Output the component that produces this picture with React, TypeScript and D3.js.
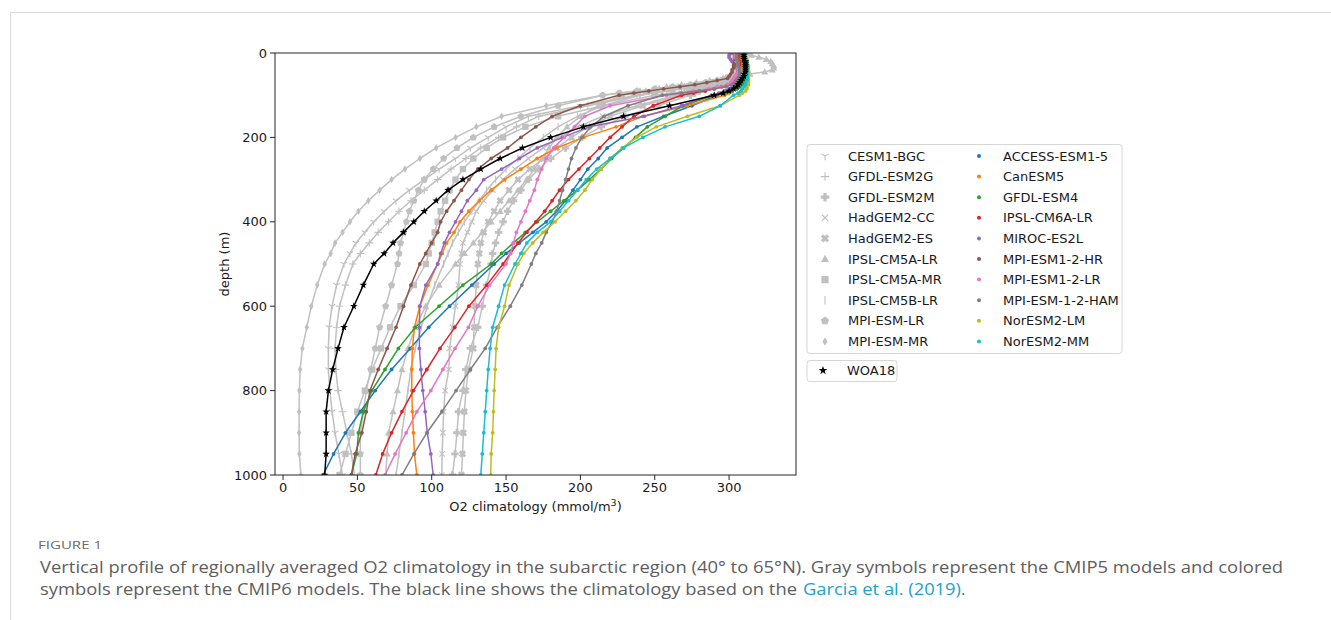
import React from "react";
import * as d3 from "d3";

// ---------- DATA ----------
const depths = [0, 5, 10, 15, 20, 25, 30, 35, 40, 45, 50, 55, 60, 65, 70, 75, 80, 85, 90, 95, 100,
  125, 150, 175, 200, 225, 250, 275, 300, 325, 350, 375, 400, 425, 450, 475, 500,
  550, 600, 650, 700, 750, 800, 850, 900, 950, 1000];

const xTicks = [0, 50, 100, 150, 200, 250, 300];
const yTicks = [0, 200, 400, 600, 800, 1000];

// CMIP5 (gray)
const cesm1Bgc = [304,304,304,305,305,305,305,305,305,304,303,301,298,294,289,283,276,268,258,248,238,
  200,165,150,138,126,116,105,95,85,76,68,61,55,49,45,41,
  36,33,31,30.5,30.5,31.5,33,35,37.5,40];
const gfdlEsm2g = [304,304,305,305,305,305,305,305,305,304,303,301,298,294,289,283,276,268,259,250,240,
  205,172,157,145,133,123,113,104,95,86,78,71,64,58,52,47,
  42,38,36,35,35.5,37,40,43,46,48];
const gfdlEsm2m = [308,308,308,309,309,309,309,309,309,308,307,305,302,299,295,291,287,283,280,277,274,
  252,230,214,201,190,180,172,165,160,155,151,148,145,143,141,140,
  137,134,131,126,123,121,118,117,115.7,114];
const hadgem2Cc = [306,306,306,307,307,307,307,307,307,306,305,303,300,296,291,286,281,276,272,268,264,
  238,215,198,186,175,165,156,148,141,135,130,127,124,121,120,119,
  118,116,114,112,111.5,109,108,107.5,107,106.8];
const hadgem2Es = [307,307,307,308,308,308,308,308,308,307,306,304,301,297,293,288,283,279,275,271,267,
  242,220,205,194,184,175,166,158,152,146,142,138,135,133,132,131,
  130,129,128.5,128,124.7,123,122,121.3,120.7,120];
const ipslCm5aLr = [312,315,320,325,328,329,330,330,329,324,314,305,296,287,278,268,258,251,244,236,228,
  212,200,191,184,179,174,169,164,158,152,146,140,134,128,122,116,
  105,96,89,84,80,77,74,71,70,69];
const ipslCm5aMr = [306,306,307,307,308,308,308,308,308,308,307,306,305,303,300,296,290,282,273,262,250,
  215,185,163,148,137,128,121,116,112,109,106,104,102,100,98,96,
  88,79,72,66,60,55,50,46,42,38];
const ipslCm5bLr = [308,308,309,309,310,310,310,310,309,308,306,303,298,292,285,277,270,262,255,248,240,
  215,198,185,175,166,158,150,143,137,132,127,122,118,114,111,108,
  102,97,93,89,86,84,82,80,78,76];
const mpiEsmLr = [305,305,305,306,306,306,306,306,306,305,304,302,298,292,284,274,262,250,238,226,215,
  185,160,142,128,117,108,101,95,91,88,85,83,81,79,78,77,
  73,69,65,62,59,56,54,52,52,52];
const mpiEsmMr = [303,303,303,304,304,305,305,305,305,305,304,303,300,295,288,278,266,253,240,227,215,
  177,147,130,116,103,92,82,73,65,57.4,50.7,45,40,35,32,28,
  23,19,16,13,11.5,11,10.8,10.8,11,12];

// CMIP6 (colored)
const accessEsm15 = [308,308,308,309,309,310,310,311,311,311,311,311,311,311,310,309,307,305,302,298,292,
  275,256,238,228,218,212,205,200,195,190,184,177,168,159,150,142,
  127,112,98,85.5,73,62,52,42,34,27];
const canEsm5 = [306,306,307,307,308,309,309,310,310,311,311,311,310,310,309,308,306,304,302,300,297,
  272,242,224,202,184,171,160,149,140,132,125,119,115,110,107,104,
  97.5,92,88.4,87,86.6,86.6,87,87.7,88.4,90];
const gfdlEsm4 = [309,309,309,310,310,311,311,311,311,311,311,311,311,310,309,308,307,305,302,297,290,
  269,257,245,237,229,221,214,206,198,189,180,171,163,155,147,140,
  121,105,89,77.6,68.6,59.7,54,50.7,49.6,46];
const ipslCm6aLr = [306,306,306,306,307,307,307,307,307,307,306,306,305,304,302,299,295,290,284,276,268,
  249,236,228,220,213,206,199,192,186,181,176,170,164,158,153,148,
  137,125,115.5,105.6,96.7,87.7,80,73,67,62.4];
const mirocEs2l = [301,300,300,301,302,303,304,305,306,306,306,306,306,305,304,303,302,300,297,293,288,
  268,243,206,188,171,159,147,135,130,124,120,116,112,108.5,106,104,
  96,92,91.7,91.7,92.7,94,95.6,97,99.4,101];
const mpiEsm12Hr = [303,304,304,304,304,304,303,303,302,302,301,300,299,292,285,277,267,256,246,236,226,
  200,181,170,160,151,140,131,125,120,115,110,106,104,100,96,92,
  86,81,76,70,64,58.5,56,53,48.5,46];
const mpiEsm12Lr = [304,304,304,305,305,306,306,306,306,306,305,304,303,302,301,299,292,286,276,267,258,
  220,203,196,189,182,177,174,171,169,166,163,160,157,155,153,150,
  139,131,124.7,115.7,107.5,99.4,90,82.8,75.4,68.6];
const mpiEsm12Ham = [305,305,305,305,306,306,306,307,307,307,307,307,306,305,304,302,298,290,280,268,255,
  232,216,207,201,197,194,192,190,188,186,184,181,177,174,170,167,
  160.6,152.8,144,136,126,116.4,106.8,96.7,88,80];
const norEsm2Lm = [311,311,311,312,312,312,313,313,313,313,313,313,313,313,313,313,312,312,311,309,307,
  294,272,251,238,228,220,214,208,203,197,190,183,175,168,162,158,
  152,149,145,143.3,142.7,142,141.5,141,140,139.7];
const norEsm2Mm = [311,311,311,311,312,312,312,312,312,312,312,312,312,312,311,311,310,309,308,306,303,
  294,280,257,242,229,220,211,204,198,192,186,180,171,164,160,156,
  149,145,141,139.3,138,137,136,135,134,133];

// Observation
const woa18 = [310,310,310,310,311,311,311,311,311,311,310,310,309,308,307,306,305,303,300,296,290,
  260,229,202,180,161,146,133,121,111,103,95,88,81,74,68,61,
  54,47.6,41,37,33.4,30.5,29,29,29,28];

const cmip5Names = ["CESM1-BGC","GFDL-ESM2G","GFDL-ESM2M","HadGEM2-CC","HadGEM2-ES","IPSL-CM5A-LR","IPSL-CM5A-MR","IPSL-CM5B-LR","MPI-ESM-LR","MPI-ESM-MR"];
const cmip5Values = [cesm1Bgc, gfdlEsm2g, gfdlEsm2m, hadgem2Cc, hadgem2Es, ipslCm5aLr, ipslCm5aMr, ipslCm5bLr, mpiEsmLr, mpiEsmMr];
const cmip5Markers = ["tri_down","plus","P","x","X","triangle","square","vline","pentagon","thin_diamond"];

const cmip6Names = ["ACCESS-ESM1-5","CanESM5","GFDL-ESM4","IPSL-CM6A-LR","MIROC-ES2L","MPI-ESM1-2-HR","MPI-ESM1-2-LR","MPI-ESM-1-2-HAM","NorESM2-LM","NorESM2-MM"];
const cmip6Values = [accessEsm15, canEsm5, gfdlEsm4, ipslCm6aLr, mirocEs2l, mpiEsm12Hr, mpiEsm12Lr, mpiEsm12Ham, norEsm2Lm, norEsm2Mm];
const cmip6Colors = ["#1f77b4","#ff7f0e","#2ca02c","#d62728","#9467bd","#8c564b","#e377c2","#7f7f7f","#bcbd22","#17becf"];

const GRAY = "#c0c0c0";

// ---------- MARKERS ----------
function markerShape(type: string, size: number): { d: string; filled: boolean } {
  const r = size / 2;
  const f = (n: number) => n.toFixed(2);
  switch (type) {
    case "dot":
    case "circle":
      return { d: `M${f(r)},0A${f(r)},${f(r)} 0 1,1 ${f(-r)},0A${f(r)},${f(r)} 0 1,1 ${f(r)},0Z`, filled: true };
    case "tri_down":
      return { d: `M0,0L0,${f(r)}M0,0L${f(-0.866 * r)},${f(-0.5 * r)}M0,0L${f(0.866 * r)},${f(-0.5 * r)}`, filled: false };
    case "plus":
      return { d: `M${f(-r)},0H${f(r)}M0,${f(-r)}V${f(r)}`, filled: false };
    case "x": {
      const a = 0.72 * r;
      return { d: `M${f(-a)},${f(-a)}L${f(a)},${f(a)}M${f(-a)},${f(a)}L${f(a)},${f(-a)}`, filled: false };
    }
    case "vline":
      return { d: `M0,${f(-r)}V${f(r)}`, filled: false };
    case "P":
    case "X": {
      const a = r * 0.38;
      const R = r;
      let pts: [number, number][] = [
        [-a, -R], [a, -R], [a, -a], [R, -a], [R, a], [a, a], [a, R], [-a, R], [-a, a], [-R, a], [-R, -a], [-a, -a],
      ];
      if (type === "X") {
        const c = Math.cos(Math.PI / 4), s = Math.sin(Math.PI / 4);
        pts = pts.map(([px, py]) => [px * c - py * s, px * s + py * c]);
      }
      return { d: "M" + pts.map(p => `${f(p[0])},${f(p[1])}`).join("L") + "Z", filled: true };
    }
    case "triangle":
      return { d: `M0,${f(-r)}L${f(0.95 * r)},${f(0.7 * r)}L${f(-0.95 * r)},${f(0.7 * r)}Z`, filled: true };
    case "square": {
      const a = r * 0.85;
      return { d: `M${f(-a)},${f(-a)}H${f(a)}V${f(a)}H${f(-a)}Z`, filled: true };
    }
    case "pentagon": {
      const pts = d3.range(5).map(k => {
        const ang = -Math.PI / 2 + (k * 2 * Math.PI) / 5;
        return [r * Math.cos(ang), r * Math.sin(ang)];
      });
      return { d: "M" + pts.map(p => `${f(p[0])},${f(p[1])}`).join("L") + "Z", filled: true };
    }
    case "thin_diamond":
      return { d: `M0,${f(-r)}L${f(0.6 * r)},0L0,${f(r)}L${f(-0.6 * r)},0Z`, filled: true };
    case "star": {
      const pts = d3.range(10).map(k => {
        const ang = -Math.PI / 2 + (k * Math.PI) / 5;
        const rr = k % 2 === 0 ? r : r * 0.4;
        return [rr * Math.cos(ang), rr * Math.sin(ang)];
      });
      return { d: "M" + pts.map(p => `${f(p[0])},${f(p[1])}`).join("L") + "Z", filled: true };
    }
    default:
      return { d: "", filled: true };
  }
}

function Marker({ type, size, color, cx, cy }: { type: string; size: number; color: string; cx: number; cy: number }) {
  const m = markerShape(type, size);
  return (
    <path
      d={m.d}
      transform={`translate(${cx.toFixed(2)},${cy.toFixed(2)})`}
      fill={m.filled ? color : "none"}
      stroke={m.filled ? "none" : color}
      strokeWidth={m.filled ? 0 : 1.1}
    />
  );
}

// ---------- CHART ----------
export default function App() {
  const W = 1331, H = 620;
  const left = 275, right = 796, top = 53, bottom = 475;
  const x = d3.scaleLinear().domain([-5.4, 345]).range([left, right]);
  const y = d3.scaleLinear().domain([0, 1000]).range([top, bottom]);
  const lineGen = d3.line<number>().x(v => x(v)).y((_, i) => y(depths[i]));

  const font = "'DejaVu Sans', sans-serif";
  const txt = "#1a1a1a";

  type S = { name: string; values: number[]; color: string; marker: string; size: number };
  const series: S[] = [
    ...cmip5Names.map((n, i) => ({ name: n, values: cmip5Values[i], color: GRAY, marker: cmip5Markers[i], size: 7.5 })),
    ...cmip6Names.map((n, i) => ({ name: n, values: cmip6Values[i], color: cmip6Colors[i], marker: "dot", size: 3.8 })),
    { name: "WOA18", values: woa18, color: "#000000", marker: "star", size: 8 },
  ];

  const legRowY = (i: number) => 156 + i * 20.6;

  return (
    <svg width={W} height={H} style={{ position: "absolute", left: 0, top: 0, display: "block", background: "#fff" }}>
      {/* page border */}
      <line x1={10.5} y1={12.5} x2={W} y2={12.5} stroke="#d9d9d9" strokeWidth={1} />
      <line x1={10.5} y1={12.5} x2={10.5} y2={H} stroke="#d9d9d9" strokeWidth={1} />

      <defs>
        <clipPath id="plotClip">
          <rect x={left} y={top} width={right - left} height={bottom - top} />
        </clipPath>
      </defs>

      {/* series */}
      <g clipPath="url(#plotClip)">
        {series.map((s, si) => (
          <g key={si}>
            <path d={lineGen(s.values) || ""} fill="none" stroke={s.color} strokeWidth={1.5} strokeLinejoin="round" />
            {s.values.map((v, i) => (
              <Marker key={i} type={s.marker} size={s.size} color={s.color} cx={x(v)} cy={y(depths[i])} />
            ))}
          </g>
        ))}
      </g>

      {/* axes frame */}
      <rect x={left} y={top} width={right - left} height={bottom - top} fill="none" stroke="#262626" strokeWidth={1} />

      {/* x ticks */}
      {xTicks.map(t => (
        <g key={t}>
          <line x1={x(t)} x2={x(t)} y1={bottom} y2={bottom + 5} stroke="#262626" strokeWidth={1} />
          <text x={x(t)} y={bottom + 17} textAnchor="middle" fontFamily={font} fontSize={13} fill={txt}>{t}</text>
        </g>
      ))}
      {/* y ticks */}
      {yTicks.map(t => (
        <g key={t}>
          <line x1={left - 5} x2={left} y1={y(t)} y2={y(t)} stroke="#262626" strokeWidth={1} />
          <text x={left - 8} y={y(t) + 4.6} textAnchor="end" fontFamily={font} fontSize={13} fill={txt}>{t}</text>
        </g>
      ))}

      {/* axis labels */}
      <text x={(left + right) / 2} y={511} textAnchor="middle" fontFamily={font} fontSize={13} fill={txt}>
        O2 climatology (mmol/m<tspan dy={-5} fontSize={9.5}>3</tspan><tspan dy={5}>)</tspan>
      </text>
      <text transform={`translate(229,${(top + bottom) / 2}) rotate(-90)`} textAnchor="middle" fontFamily={font} fontSize={13} fill={txt}>
        depth (m)
      </text>

      {/* legend main */}
      <rect x={807} y={144.5} width={315} height={209} rx={3} fill="#ffffff" fillOpacity={0.85} stroke="#d6d6d6" strokeWidth={1} />
      {cmip5Names.map((n, i) => (
        <g key={n}>
          <Marker type={cmip5Markers[i]} size={8.5} color={GRAY} cx={825} cy={legRowY(i)} />
          <text x={848} y={legRowY(i) + 4.6} fontFamily={font} fontSize={13} fill={txt}>{n}</text>
        </g>
      ))}
      {cmip6Names.map((n, i) => (
        <g key={n}>
          <Marker type="dot" size={4} color={cmip6Colors[i]} cx={979} cy={legRowY(i)} />
          <text x={1003} y={legRowY(i) + 4.6} fontFamily={font} fontSize={13} fill={txt}>{n}</text>
        </g>
      ))}

      {/* legend WOA18 */}
      <rect x={807} y={360.5} width={90} height={21} rx={3} fill="#ffffff" fillOpacity={0.85} stroke="#d6d6d6" strokeWidth={1} />
      <Marker type="star" size={9} color="#000000" cx={823} cy={370.5} />
      <text x={847} y={375} fontFamily={font} fontSize={13} fill={txt}>WOA18</text>

      {/* caption */}
      <text x={38} y={549} fontFamily="'Open Sans', sans-serif" fontSize={11.5} fill="#6b6b6b" textLength={64} lengthAdjust="spacingAndGlyphs">FIGURE 1</text>
      <text x={40} y={573} fontFamily="'Open Sans', sans-serif" fontSize={17} fill="#5e5e5e" textLength={1243} lengthAdjust="spacingAndGlyphs">
        Vertical profile of regionally averaged O2 climatology in the subarctic region (40° to 65°N). Gray symbols represent the CMIP5 models and colored
      </text>
      <text x={40} y={595} fontFamily="'Open Sans', sans-serif" fontSize={17} fill="#5e5e5e" textLength={757} lengthAdjust="spacingAndGlyphs">
        symbols represent the CMIP6 models. The black line shows the climatology based on the
      </text>
      <text x={803} y={595} fontFamily="'Open Sans', sans-serif" fontSize={17} fill="#1aa3c8" textLength={158} lengthAdjust="spacingAndGlyphs">
        Garcia et al. (2019)
      </text>
      <text x={961} y={595} fontFamily="'Open Sans', sans-serif" fontSize={17} fill="#5e5e5e">.</text>
    </svg>
  );
}
